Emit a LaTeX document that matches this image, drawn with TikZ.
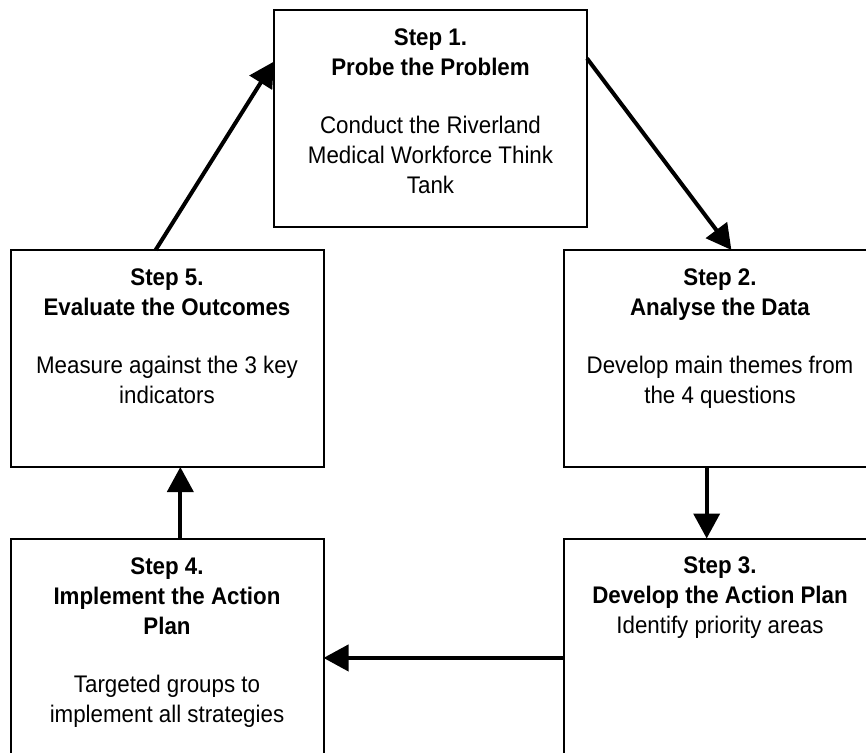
\documentclass[tikz,border=0pt]{standalone}
\usepackage{fontspec}
\setmainfont[FakeStretch=0.93]{Liberation Sans}
\usetikzlibrary{arrows.meta}

\tikzset{
  stepbox/.style={draw, line width=1.5pt, inner sep=0pt, outer sep=0pt,
    font=\fontsize{18}{22.5}\selectfont},
  steparrow/.style={line width=3pt, -{Triangle[length=18.75pt,width=19.5pt]}}
}
\newcommand{\stepbody}[1]{\parbox[c][162.75pt][t]{234.75pt}{\centering\vspace*{14pt}#1}}

\begin{document}
\begin{tikzpicture}[x=0.75pt,y=0.75pt,yscale=-1,xscale=1]
\clip (0,0) rectangle (866,752);

%Step boxes
\node[stepbox] (step1) at (430.5,118.5) {\stepbody{\textbf{Step 1.}\\ \textbf{Probe the Problem}\\[21pt]
  Conduct the Riverland\\ Medical Workforce Think\\ Tank}};
\node[stepbox] (step2) at (720,358.5) {\stepbody{\textbf{Step 2.}\\ \textbf{Analyse the Data}\\[21pt]
  Develop main themes from\\ the 4 questions}};
\node[stepbox] (step3) at (720,647) {\stepbody{\textbf{Step 3.}\\ \textbf{Develop the Action Plan}\\
  Identify priority areas}};
\node[stepbox] (step4) at (167,647.5) {\stepbody{\textbf{Step 4.}\\ \textbf{Implement the Action}\\ \textbf{Plan}\\[21pt]
  Targeted groups to\\ implement all strategies}};
\node[stepbox] (step5) at (167,358.5) {\stepbody{\textbf{Step 5.}\\ \textbf{Evaluate the Outcomes}\\[21pt]
  Measure against the 3 key\\ indicators}};

%Arrows
\draw[steparrow] (step1.21.5) -- (step2.84.7);
\draw[steparrow] (step2.263.7) -- (step2.263.7 |- step3.north);
\draw[steparrow] (step3.184) -- (step3.184 -| step4.east);
\draw[steparrow] (step4.83.2) -- (step4.83.2 |- step5.south);
\draw[steparrow] (step5.96.3) -- (step1.160.15);

\end{tikzpicture}
\end{document}
